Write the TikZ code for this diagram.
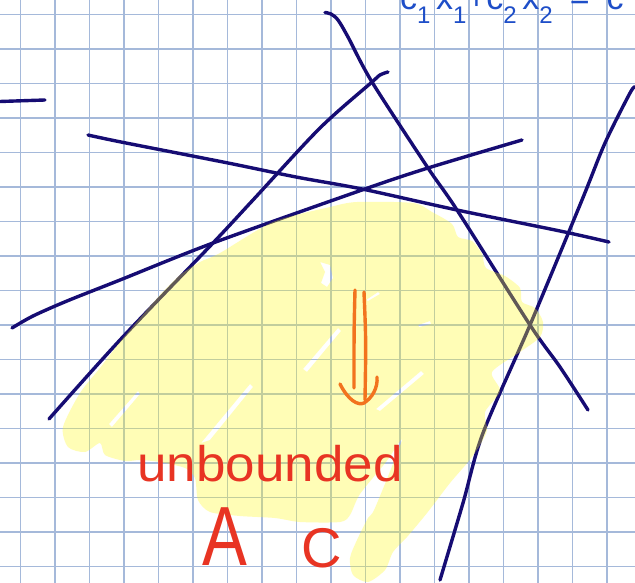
\documentclass[tikz,border=0pt]{standalone}
\usepackage{fontspec}
\setmainfont{Liberation Sans}
\definecolor{gridc}{RGB}{165,185,218}
\definecolor{navy}{RGB}{22,12,115}
\definecolor{hl}{RGB}{255,250,30}
\definecolor{redink}{RGB}{232,52,35}
\definecolor{orangeink}{RGB}{242,115,30}
\definecolor{blueink}{RGB}{30,78,200}
\newcommand\lowsub[1]{\raisebox{-14pt}{\fontsize{24}{24}\selectfont #1}}
\tikzset{
  gridline/.style={gridc, line width=1.5pt},
  penline/.style={navy, line width=3.4pt, line cap=round, line join=round},
  hilite/.style={fill=hl, fill opacity=0.32, even odd rule},
  redtext/.style={text=redink, inner sep=0pt},
  orangepen/.style={orangeink, line width=3.4pt, line cap=round, line join=round},
}
\begin{document}
\begin{tikzpicture}[x=1pt,y=-1pt]
\useasboundingbox (0,0) rectangle (635,583);
\clip (0,0) rectangle (635,583);
\fill[white] (0,0) rectangle (635,583);
% grid
\foreach \k in {0,...,17} \draw[gridline] ({20.7+34.5*\k},0) -- ({20.7+34.5*\k},583);
\foreach \k in {0,...,16} \draw[gridline] (0,{14.3+34.5*\k}) -- (635,{14.3+34.5*\k});
% pen lines
\draw[penline] (0,101.5) -- (45,100);
\draw[penline] plot[smooth] coordinates {(88,135) (97,137) (126,143) (228,163) (296,177) (362,189) (457,210) (560,231) (609,242)};
\draw[penline] plot[smooth] coordinates {(49,419) (120,340) (213,243) (253,200) (320,128) (372,82) (380,75) (388,72)};
\draw[penline] plot[smooth] coordinates {(325,12.5) (331,14) (338,20) (348,37) (372,82) (428,168) (457,210) (530,325) (560,367) (588,410)};
\draw[penline] plot[smooth] coordinates {(12,328) (33,316) (67,301) (120,280) (213,243) (362,190) (428,168) (522,140)};
\draw[penline] plot[smooth] coordinates {(440,580) (463,503) (483,433) (530,325) (582,200) (605,143) (630,93) (635,87)};
% highlighter
\fill[hilite] plot[smooth cycle, tension=0.45] coordinates {
 (220,253) (273,222) (330,207) (357,202) (413,203) (432,212) (452,224) (458,237)
 (472,241) (482,254) (486,268) (505,276) (520,288) (522,302) (535,308) (543,322)
 (540,337) (520,352) (492,372) (500,391) (485,412) (487,430) (480,445) (468,462)
 (450,483) (427,513) (407,537) (393,552) (385,570) (368,582) (353,575) (350,558)
 (357,540) (368,518) (375,508) (402,440) (386,462) (360,494) (350,515) (340,522)
 (300,522) (275,518) (240,516) (210,512) (198,500) (195,478) (185,468) (160,462)
 (140,460) (125,461) (105,455) (100,443) (85,452) (68,447) (63,427) (80,393)
 (100,368) (120,342) (140,318) (160,295) (180,275) (200,262)}
 (338,328) -- (341,331) -- (307,372) -- (303,369) -- cycle
 (320,262) -- (330,265) -- (333,278) -- (327,287) -- (321,283) -- (325,272) -- cycle
 (421,371) -- (424,374) -- (380,411) -- (376,409) -- cycle
 (138,391) -- (140,394) -- (112,427) -- (109,424) -- cycle
 (250,384) -- (253,387) -- (210,440) -- (201,443) -- cycle
 (378,292) -- (380,294) -- (368,301) -- (366,300) -- cycle
 (430,321) -- (431,324) -- (419,327) -- (418,325) -- cycle;
% orange arrow
\draw[orangepen] (355,290) .. controls (354,330) .. (354,388);
\draw[orangepen] (364,292) .. controls (366,340) .. (365,400);
\draw[orangepen] (340,384) .. controls (348,400) and (358,406) .. (364,403) .. controls (372,398) and (378,388) .. (377,377);
% texts
\node[redtext, anchor=base, xscale=1.06] (unb) at (270,481) {\fontsize{50}{50}\selectfont unbounded};
\node[redtext, anchor=base, xscale=0.8] (lblA) at (225,565) {\fontsize{84}{84}\selectfont A};
\node[redtext, anchor=base] (lblC) at (322,567) {\fontsize{56}{56}\selectfont C};
\node[text=blueink, anchor=base west, inner sep=0pt] (eq) at (400,10) {\fontsize{34}{34}\selectfont c\lowsub{1}\,x\lowsub{1}+c\lowsub{2}\,x\lowsub{2}\enspace=\enspace c};
\end{tikzpicture}
\end{document}
